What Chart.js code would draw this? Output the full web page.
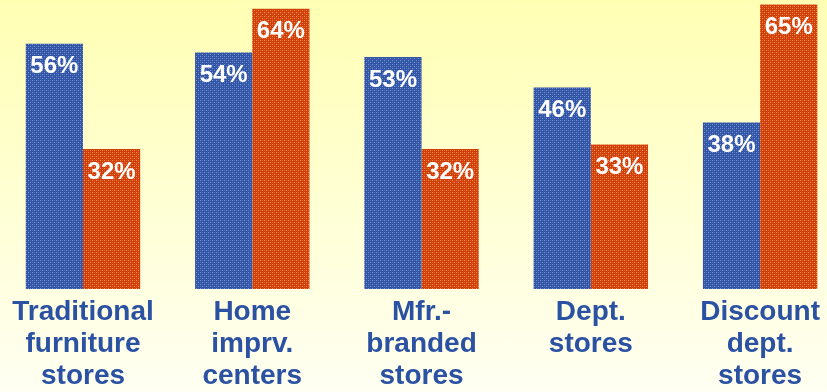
<!DOCTYPE html>
<html>
<head>
<meta charset="utf-8">
<script src="https://cdn.jsdelivr.net/npm/chart.js@4.4.1/dist/chart.umd.min.js"></script>
<style>
  html, body { margin: 0; padding: 0; }
  #wrap {
    width: 827px;
    height: 392px;
    background: linear-gradient(#ffffb4, #fffff2);
  }
</style>
</head>
<body>
<div id="wrap"><canvas id="myChart"></canvas></div>
<script>
const categories = [
    ['Traditional', 'furniture', 'stores'],
    ['Home', 'imprv.', 'centers'],
    ['Mfr.-', 'branded', 'stores'],
    ['Dept.', 'stores'],
    ['Discount', 'dept.', 'stores']
];
const seriesA = [56, 54, 53, 46, 38];
const seriesB = [32, 64, 32, 33, 65];

// small dotted texture used to fill the bars
function makePattern(base, light, mid) {
    const c = document.createElement('canvas');
    c.width = 4;
    c.height = 4;
    const g = c.getContext('2d');
    g.fillStyle = base;
    g.fillRect(0, 0, 4, 4);
    g.fillStyle = light;
    g.fillRect(0, 0, 1, 1);
    g.fillRect(2, 2, 1, 1);
    g.fillStyle = mid;
    g.fillRect(2, 0, 1, 1);
    g.fillRect(0, 2, 1, 1);
    return g.createPattern(c, 'repeat');
}

const bluePattern = makePattern('#3154a4', '#7b98d6', '#4d6fba');
const orangePattern = makePattern('#d03f0a', '#f29255', '#e0622a');

// white percentage text inside the top of each bar
const valueLabels = {
    id: 'valueLabels',
    afterDatasetsDraw(chart) {
        const ctx = chart.ctx;
        ctx.save();
        ctx.font = 'bold 24px "Liberation Sans", Arial, sans-serif';
        ctx.fillStyle = '#ffffff';
        ctx.textAlign = 'center';
        ctx.textBaseline = 'middle';
        chart.data.datasets.forEach((ds, i) => {
            chart.getDatasetMeta(i).data.forEach((bar, j) => {
                ctx.fillText(ds.data[j] + '%', bar.x, bar.y + 23);
            });
        });
        ctx.restore();
    }
};

const ctx = document.getElementById('myChart').getContext('2d');
new Chart(ctx, {
    type: 'bar',
    data: {
        labels: categories,
        datasets: [{
            data: seriesA,
            backgroundColor: bluePattern,
            borderWidth: 0,
            clip: false
        }, {
            data: seriesB,
            backgroundColor: orangePattern,
            borderWidth: 0,
            clip: false
        }]
    },
    options: {
        responsive: true,
        maintainAspectRatio: false,
        animation: false,
        categoryPercentage: 0.676,
        barPercentage: 1,
        layout: {
            padding: { left: 83, right: 64, top: 0, bottom: 0 }
        },
        plugins: {
            legend: { display: false },
            tooltip: { enabled: false }
        },
        scales: {
            x: {
                offset: false,
                grid: { display: false, drawTicks: false },
                border: { display: false },
                afterFit(scale) {
                    scale.height = 103;
                },
                ticks: {
                    padding: 7,
                    color: '#2b51a3',
                    maxRotation: 0,
                    autoSkip: false,
                    font: {
                        family: '"Liberation Sans", Arial, sans-serif',
                        size: 28,
                        weight: 'bold',
                        lineHeight: 1.14
                    }
                }
            },
            y: {
                display: false,
                min: 0,
                max: 66
            }
        }
    },
    plugins: [valueLabels]
});
</script>
</body>
</html>
